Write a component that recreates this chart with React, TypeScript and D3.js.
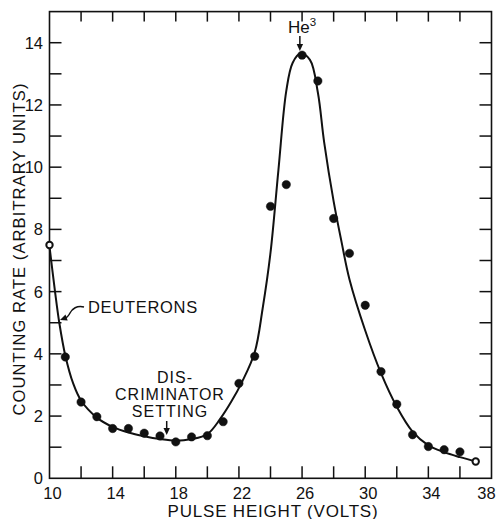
import React, { useEffect, useRef } from "react";
import * as d3 from "d3";

// measured points (pulse height in volts, counting rate)
const volts = [10, 11, 12, 13, 14, 15, 16, 17, 18, 19, 20, 21, 22, 23, 24, 25, 26, 27, 28, 29, 30, 31, 32, 33, 34, 35, 36, 37];
const rate = [7.5, 3.9, 2.45, 1.98, 1.6, 1.6, 1.45, 1.36, 1.17, 1.33, 1.37, 1.82, 3.05, 3.92, 8.74, 9.44, 13.6, 12.77, 8.35, 7.23, 5.56, 3.43, 2.38, 1.4, 1.02, 0.92, 0.85, 0.54];
const openPoints = [10, 37];

// fitted curve
const curveVolts = [10, 10.35, 10.62, 11, 11.5, 12, 13, 14, 15, 16, 17, 18, 19, 20, 20.8, 21.5, 22.2, 23, 23.5, 24, 24.5, 25, 25.4, 25.9, 26.5, 27, 27.4, 28, 28.5, 29, 30, 31, 32, 33, 34, 35, 36, 37];
const curveRate = [7.45, 6.0, 5.0, 3.95, 3.05, 2.5, 1.95, 1.65, 1.47, 1.35, 1.26, 1.21, 1.26, 1.42, 1.9, 2.45, 3.1, 4.05, 5.45, 7.25, 9.9, 12.45, 13.35, 13.65, 13.45, 12.4, 10.8, 8.9, 7.6, 6.4, 4.75, 3.38, 2.3, 1.5, 1.06, 0.84, 0.68, 0.54];

const xTickLabels = [10, 14, 18, 22, 26, 30, 34, 38];
const yTickLabels = [0, 2, 4, 6, 8, 10, 12, 14];

const App = () => {
  const svgRef = useRef<SVGSVGElement>(null);

  useEffect(() => {
    const svg = d3.select(svgRef.current);
    svg.selectAll("*").remove();

    const width = 497;
    const height = 519;
    const font = "'Liberation Sans', Arial, sans-serif";

    const x = d3.scaleLinear().domain([10, 38]).range([49.5, 491.5]);
    const y = d3.scaleLinear().domain([0, 15]).range([478.3, 11.6]);

    svg.attr("width", width).attr("height", height);
    svg.append("rect").attr("width", width).attr("height", height).attr("fill", "white");

    const tickLen = 12;

    // frame
    svg.append("rect")
      .attr("x", x(10)).attr("y", y(15))
      .attr("width", x(38) - x(10)).attr("height", y(0) - y(15))
      .attr("fill", "none").attr("stroke", "#111").attr("stroke-width", 1.6);

    // inward ticks
    const ax = svg.append("g").attr("stroke", "#111").attr("stroke-width", 1.5);
    const xt = d3.range(12, 38, 2);
    const yt = d3.range(1, 15, 1);
    ax.selectAll(".xb").data(xt).enter().append("line")
      .attr("x1", d => x(d)).attr("x2", d => x(d))
      .attr("y1", y(0)).attr("y2", y(0) - tickLen);
    ax.selectAll(".xt").data(xt).enter().append("line")
      .attr("x1", d => x(d)).attr("x2", d => x(d))
      .attr("y1", y(15)).attr("y2", y(15) + tickLen - 2);
    ax.selectAll(".yl").data(yt).enter().append("line")
      .attr("x1", x(10)).attr("x2", x(10) + tickLen)
      .attr("y1", d => y(d)).attr("y2", d => y(d));
    ax.selectAll(".yr").data(yt).enter().append("line")
      .attr("x1", x(38)).attr("x2", x(38) - tickLen)
      .attr("y1", d => y(d)).attr("y2", d => y(d));

    // tick labels
    svg.append("g").selectAll("text").data(xTickLabels).enter().append("text")
      .attr("x", d => x(d) + (d === 38 ? -5 : 3))
      .attr("y", 499)
      .attr("text-anchor", "middle")
      .style("font-family", font).style("font-size", "16.5px").style("fill", "#111")
      .text(d => d);

    svg.append("g").selectAll("text").data(yTickLabels).enter().append("text")
      .attr("x", 43)
      .attr("y", d => y(d) + 6)
      .attr("text-anchor", "end")
      .style("font-family", font).style("font-size", "16.5px").style("fill", "#111")
      .text(d => d);

    // axis titles
    svg.append("text")
      .attr("x", 273).attr("y", 516.5)
      .attr("text-anchor", "middle")
      .style("font-family", font).style("font-size", "17px").style("letter-spacing", "0.8px").style("fill", "#111")
      .text("PULSE HEIGHT (VOLTS)");

    svg.append("text")
      .attr("transform", "translate(25,249) rotate(-90)")
      .attr("text-anchor", "middle")
      .style("font-family", font).style("font-size", "16.5px").style("letter-spacing", "1.1px").style("fill", "#111")
      .text("COUNTING RATE (ARBITRARY UNITS)");

    // fitted curve
    const pts = curveVolts.map((v, i) => [v, curveRate[i]] as [number, number]);
    const line = d3.line<[number, number]>()
      .x(d => x(d[0])).y(d => y(d[1]))
      .curve(d3.curveCatmullRom.alpha(0.5));
    svg.append("path")
      .attr("d", line(pts))
      .attr("fill", "none").attr("stroke", "#111").attr("stroke-width", 2);

    // data points
    const data = volts.map((v, i) => ({ v, r: rate[i] }));
    svg.append("g").selectAll("circle").data(data).enter().append("circle")
      .attr("cx", d => x(d.v)).attr("cy", d => y(d.r))
      .attr("r", d => (openPoints.includes(d.v) ? 3.2 : 4.2))
      .attr("fill", d => (openPoints.includes(d.v) ? "white" : "#111"))
      .attr("stroke", "#111")
      .attr("stroke-width", d => (openPoints.includes(d.v) ? 2 : 0.5));

    // annotations
    const arrowHead = (tx: number, ty: number, angle: number) => {
      svg.append("path")
        .attr("d", "M0,0 L-7,-3.2 L-7,3.2 Z")
        .attr("transform", `translate(${tx},${ty}) rotate(${angle})`)
        .attr("fill", "#111");
    };

    const he = svg.append("text")
      .attr("x", 288).attr("y", 33)
      .style("font-family", font).style("font-size", "17px").style("fill", "#111");
    he.append("tspan").text("He");
    he.append("tspan").attr("dy", -7).style("font-size", "11.5px").text("3");
    svg.append("line")
      .attr("x1", x(25.86)).attr("x2", x(25.86))
      .attr("y1", 36).attr("y2", 46)
      .attr("stroke", "#111").attr("stroke-width", 1.5);
    arrowHead(x(25.86), 51, 90);

    svg.append("text")
      .attr("x", 88).attr("y", 312.5)
      .style("font-family", font).style("font-size", "16.5px").style("letter-spacing", "0.7px").style("fill", "#111")
      .text("DEUTERONS");
    svg.append("path")
      .attr("d", "M84,307 C77,305 72,309 70,313 C68,317 66,318 64,318.5")
      .attr("fill", "none").attr("stroke", "#111").attr("stroke-width", 1.5);
    arrowHead(60, 320, 160);

    const disc = ["DIS-", "CRIMINATOR", "SETTING"];
    svg.append("g").selectAll("text").data(disc).enter().append("text")
      .attr("x", d => (d === "DIS-" ? 175 : 170))
      .attr("y", (d, i) => 383 + i * 17)
      .attr("text-anchor", "middle")
      .style("font-family", font).style("font-size", "16px").style("letter-spacing", "1px").style("fill", "#111")
      .text(d => d);
    svg.append("line")
      .attr("x1", 166.7).attr("x2", 166.7)
      .attr("y1", 421).attr("y2", 429)
      .attr("stroke", "#111").attr("stroke-width", 1.5);
    arrowHead(166.7, 435, 90);
  }, []);

  return (
    <div style={{ position: "absolute", left: 0, top: 0 }}>
      <svg ref={svgRef} style={{ display: "block" }} />
    </div>
  );
};

export default App;
